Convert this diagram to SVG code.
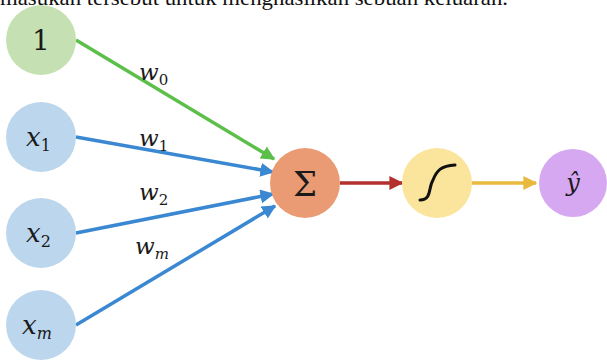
<svg xmlns="http://www.w3.org/2000/svg" width="607" height="360" viewBox="0 0 607 360">
<style>
.lbl{font-family:"DejaVu Serif",serif;font-style:italic;fill:#1a1a1a}
.sub{font-family:"DejaVu Serif",serif;font-style:normal;fill:#1a1a1a}
.edge{stroke-width:3.5;fill:none}
</style>
<defs>
<marker id="ag" viewBox="0 0 10 10" refX="9" refY="5" markerWidth="4" markerHeight="4" orient="auto" markerUnits="strokeWidth"><path d="M0,0 L10,5 L0,10 z" fill="#5bbf4a"/></marker>
<marker id="ab" viewBox="0 0 10 10" refX="9" refY="5" markerWidth="4" markerHeight="4" orient="auto" markerUnits="strokeWidth"><path d="M0,0 L10,5 L0,10 z" fill="#3a87d2"/></marker>
<marker id="ar" viewBox="0 0 10 10" refX="9" refY="5" markerWidth="4" markerHeight="4" orient="auto" markerUnits="strokeWidth"><path d="M0,0 L10,5 L0,10 z" fill="#b3302c"/></marker>
<marker id="ay" viewBox="0 0 10 10" refX="9" refY="5" markerWidth="4" markerHeight="4" orient="auto" markerUnits="strokeWidth"><path d="M0,0 L10,5 L0,10 z" fill="#e8b93c"/></marker>
</defs>
<rect width="607" height="360" fill="#ffffff"/>
<text x="0" y="5" font-family="'Liberation Serif','DejaVu Serif',serif" font-size="21" fill="#111" textLength="508" lengthAdjust="spacingAndGlyphs">masukan tersebut untuk menghasilkan sebuah keluaran.</text>
<g id="connectors">
<line class="edge" x1="76" y1="40" x2="274" y2="159" stroke="#5bbf4a" marker-end="url(#ag)"/>
<line class="edge" x1="76" y1="137" x2="273" y2="172" stroke="#3a87d2" marker-end="url(#ab)"/>
<line class="edge" x1="76" y1="233" x2="273" y2="194" stroke="#3a87d2" marker-end="url(#ab)"/>
<line class="edge" x1="76" y1="325" x2="275" y2="206" stroke="#3a87d2" marker-end="url(#ab)"/>
<line class="edge" x1="340" y1="183" x2="402" y2="183" stroke="#b3302c" marker-end="url(#ar)"/>
<line class="edge" x1="472" y1="183" x2="536" y2="183" stroke="#e8b93c" marker-end="url(#ay)"/>
<text class="lbl" x="139" y="80" font-size="23">w<tspan class="sub" font-size="15" dy="5">0</tspan></text>
<text class="lbl" x="139" y="146" font-size="23">w<tspan class="sub" font-size="15" dy="5">1</tspan></text>
<text class="lbl" x="139" y="200" font-size="23">w<tspan class="sub" font-size="15" dy="5">2</tspan></text>
<text class="lbl" x="135" y="254" font-size="23">w<tspan font-size="15" dy="5">m</tspan></text>
</g>
<g id="n1"><circle cx="41" cy="40" r="35" fill="#c5e1b3"/><text class="sub" x="41" y="50" font-size="28" text-anchor="middle">1</text></g>
<g id="x1"><circle cx="41" cy="137" r="35" fill="#bcd6ed"/><text class="lbl" x="26" y="146" font-size="26">x<tspan class="sub" font-size="16" dy="5">1</tspan></text></g>
<g id="x2"><circle cx="41" cy="233" r="35" fill="#bcd6ed"/><text class="lbl" x="26" y="242" font-size="26">x<tspan class="sub" font-size="16" dy="5">2</tspan></text></g>
<g id="xm"><circle cx="41" cy="325" r="35" fill="#bcd6ed"/><text class="lbl" x="22" y="334" font-size="26">x<tspan font-size="16" dy="5">m</tspan></text></g>
<g id="sum"><circle cx="305" cy="183" r="35" fill="#eb9b74"/><text class="sub" x="305" y="196" font-size="34" text-anchor="middle">Σ</text></g>
<g id="act"><circle cx="437" cy="183" r="35" fill="#fbe59c"/><path d="M420,200 C432,200 428,188 433,180 C437,170 441,166 455,165" stroke="#111" stroke-width="3" fill="none" stroke-linecap="round"/></g>
<g id="yhat"><circle cx="573" cy="183" r="34" fill="#d6a8f2"/><text class="lbl" x="573" y="191" font-size="24" text-anchor="middle" fill="#2a1a3a">ŷ</text></g>
</svg>
